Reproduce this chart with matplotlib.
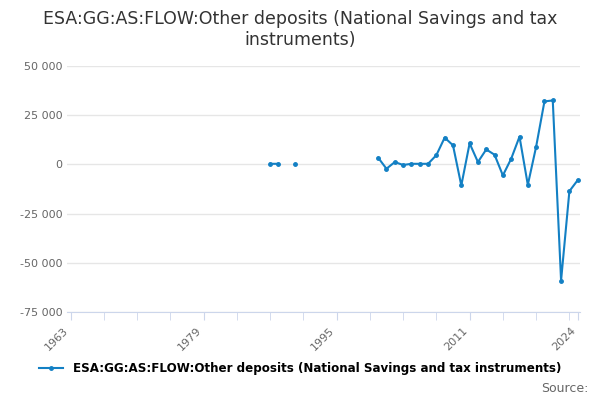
import numpy as np
import matplotlib.pyplot as plt
from matplotlib.ticker import FuncFormatter, MultipleLocator

years = list(range(1963, 2025))
known = {
    1987: 300, 1988: 300, 1990: 300,
    2000: 3400, 2001: -2200, 2002: 1200, 2003: -300, 2004: 300, 2005: 300,
    2006: 300, 2007: 4700, 2008: 13600, 2009: 9700, 2010: -10700,
    2011: 10700, 2012: 1200, 2013: 7600, 2014: 4900, 2015: -5600,
    2016: 2900, 2017: 14100, 2018: -10400, 2019: 9000, 2020: 32000,
    2021: 32500, 2022: -59000, 2023: -13600, 2024: -8000,
}
values = [known.get(y, np.nan) for y in years]
label = "ESA:GG:AS:FLOW:Other deposits (National Savings and tax instruments)"
color = "#1380c4"

fig = plt.figure(figsize=(6, 4), dpi=100)
ax = fig.add_axes([0.112, 0.22, 0.855, 0.615])
ax.plot(years, values, color=color, lw=1.5, marker="o", ms=2.5, label=label)
ax.set_xlim(1962.6, 2024.3)
ax.set_ylim(-75000, 50000)
ax.yaxis.set_major_locator(MultipleLocator(25000))
ax.yaxis.set_major_formatter(FuncFormatter(lambda v, p: f"{int(v):,}".replace(",", " ")))
ax.set_xticks([1963, 1979, 1995, 2011, 2024])
ax.set_xticks(list(range(1967, 2024, 4)), minor=True)
ax.tick_params(axis="x", which="both", length=6, color="#ccd6eb", labelsize=8, labelcolor="#666666")
ax.tick_params(axis="y", length=0, labelsize=8, labelcolor="#666666")
plt.setp(ax.get_xticklabels(), rotation=45, ha="right")
ax.grid(axis="y", color="#e6e6e6", lw=1)
for s in ["top", "right", "left"]:
    ax.spines[s].set_visible(False)
ax.spines["bottom"].set_color("#ccd6eb")
ax.set_axisbelow(True)

fig.suptitle("ESA:GG:AS:FLOW:Other deposits (National Savings and tax\ninstruments)",
             fontsize=12.5, color="#333333", y=0.975)
fig.legend(loc="lower center", bbox_to_anchor=(0.5, 0.035), frameon=False,
           handlelength=2, prop={"weight": "bold", "size": 8.6})
fig.text(0.98, 0.02, "Source:", ha="right", fontsize=9, color="#666666")
fig.savefig("out.png")
